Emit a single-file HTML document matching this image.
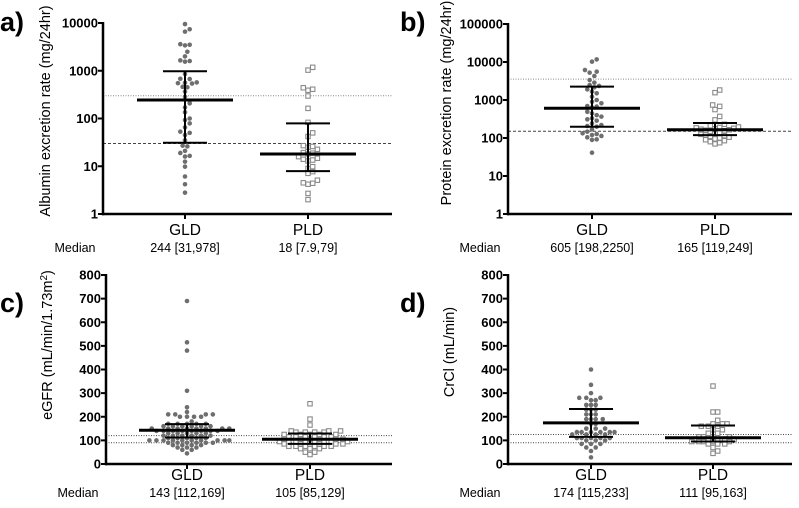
<!DOCTYPE html>
<html><head><meta charset="utf-8"><style>
body{margin:0;background:#fff}
svg{display:block;font-family:"Liberation Sans",Arial,sans-serif}
.tk{font-weight:bold;font-size:13px;text-anchor:end}
.cat{font-size:15.5px;text-anchor:middle}
.med{font-size:12.5px;text-anchor:middle}
.ttl{font-size:14.5px;text-anchor:middle}
.let{font-weight:bold;font-size:27px}
</style></head><body>
<svg id="c" width="799" height="508" viewBox="0 0 799 508"></svg>
<script>
// ---- data ----
const categories = ["GLD","PLD"];
const aGLD = [9500,7400,6600,3600,3500,3400,2500,2000,1600,1650,1550,855,670,680,560,550,570,540,450,460,365,287,208,171,135,100,93,79,65,53,50,45,35,26,27,21,19,16,16.5,12.5,9.8,6.1,4.2,2.8];
const aPLD = [1180,1030,440,410,390,296,163,83,50,42,27,26,25,22.6,19.3,18.8,18.1,15.9,14.7,14,13.5,12.9,9.8,9,7.7,7.1,5.1,4.5,4.4,4.2,2.7,2.0];
const bGLD = [11700,10200,6150,5570,5240,4280,3360,2860,2480,2340,2150,1910,1660,1500,1220,1000,900,820,695,670,640,490,445,400,365,330,310,286,243,220,207,199,169,147,133,127,120,113,104,92,89,41];
const bPLD = [1830,1560,740,680,560,370,300,230,210,195,190,185,180,175,170,165,160,155,150,140,130,125,120,115,110,105,100,95,90,85,80,75,70];
const cGLD = [690,515,480,310,240,220,210,210,210,210,200,200,200,200,180,170,170,170,170,170,160,160,160,160,160,160,150,150,150,150,150,150,150,150,140,140,140,140,140,140,140,140,130,130,130,130,130,120,120,120,120,120,120,110,110,110,110,110,100,100,100,100,100,100,100,100,100,100,90,90,90,90,90,90,80,80,80,80,70,70,70,60,60,45];
const cPLD = [255,190,165,140,140,140,135,135,135,135,125,125,125,125,125,115,115,115,115,115,115,105,105,105,105,105,105,95,95,95,95,95,95,95,95,85,85,85,85,85,85,75,75,75,75,75,75,65,65,65,50,50,40];
const dGLD = [400,335,300,280,280,280,270,270,250,250,250,230,230,230,210,210,210,190,190,190,190,170,170,150,150,150,135,135,135,135,135,135,125,125,125,125,110,110,110,110,110,100,100,100,85,85,85,70,70,55,28];
const dPLD = [330,220,220,185,170,170,170,160,160,160,145,145,130,130,115,115,115,115,105,105,105,105,95,95,95,95,95,85,85,85,70,55,45];
const aStats = [[244,31,978],[18,7.9,79]];
const bStats = [[605,198,2250],[165,119,249]];
const cStats = [[143,112,169],[105,85,129]];
const dStats = [[174,115,233],[111,95,163]];
const aTicks = [1,10,100,1000,10000];
const bTicks = [1,10,100,1000,10000,100000];
const linTicks = [0,100,200,300,400,500,600,700,800];
const aRef = [300,30];
const bRef = [3550,150];
const cRef = [120,90];
const dRef = [125,90];
const aMed = ["244 [31,978]","18 [7.9,79]"];
const bMed = ["605 [198,2250]","165 [119,249]"];
const cMed = ["143 [112,169]","105 [85,129]"];
const dMed = ["174 [115,233]","111 [95,163]"];

const svg = document.getElementById('c');
const NS = 'http://www.w3.org/2000/svg';
function mk(tag, attrs, parent){const e=document.createElementNS(NS,tag);for(const k in attrs)e.setAttribute(k,attrs[k]);(parent||svg).appendChild(e);return e;}

function panel(p){
  const g = mk('g',{});
  
  
  let yf;
  if(p.log){const l0=Math.log10(p.ticks[0]),l1=Math.log10(p.ticks[p.ticks.length-1]);yf=v=>p.y0+(p.y1-p.y0)*(Math.log10(v)-l0)/(l1-l0);}
  else {const a=p.ticks[0],b=p.ticks[p.ticks.length-1];yf=v=>p.y0+(p.y1-p.y0)*(v-a)/(b-a);}
  const cx=[p.gx,p.px];
  p.ref.forEach((r,i)=>{const l=mk('line',{x1:p.ax,x2:p.xe,y1:yf(r),y2:yf(r),stroke:(p.id=='a'||p.id=='b')&&i==0?'#888':'#444','stroke-width':1,'stroke-dasharray':(p.id=='a'||p.id=='b')&&i==1?'3,2':'1,1.5'},g);
    
    });
  [p.g,p.p].forEach((arr,ci)=>{
    const placed=[];const sorted=arr.slice().sort((a,b)=>a-b);const d=4.7;
    sorted.forEach(v=>{const y=yf(v);let x=cx[ci];
      for(let k=0;k<60;k++){const off=(k%2?1:-1)*Math.ceil(k/2)*d*0.5;const xx=cx[ci]+off;
        if(placed.every(q=>(q[0]-xx)**2+(q[1]-y)**2>=d*d)){x=xx;break;}}
      placed.push([x,y]);
      let e;
      if(ci==0) e=mk('circle',{cx:x,cy:y,r:2.3,fill:'#6e6e6e'},g);
      else e=mk('rect',{x:x-2.2,y:y-2.2,width:4.4,height:4.4,fill:'#fff',stroke:'#8a8a8a','stroke-width':1.1},g);
      
      
    });
  });
  p.stats.forEach((s,ci)=>{const x=cx[ci];
    const v=mk('line',{x1:x,x2:x,y1:yf(s[1]),y2:yf(s[2]),stroke:'#000','stroke-width':2},g);
    
    [s[1],s[2]].forEach(q=>{const c=mk('line',{x1:x-22,x2:x+22,y1:yf(q),y2:yf(q),stroke:'#000','stroke-width':2},g);
      });
    const m=mk('line',{x1:x-48,x2:x+48,y1:yf(s[0]),y2:yf(s[0]),stroke:'#000','stroke-width':3},g);
    
  });
  const ya=mk('line',{x1:p.ax,x2:p.ax,y1:p.y1-1,y2:p.y0+1.2,stroke:'#000','stroke-width':2.5},g);
  
  const xa=mk('line',{x1:p.ax-1,x2:p.xe,y1:p.y0,y2:p.y0,stroke:'#000','stroke-width':2.5},g);
  
  p.ticks.forEach(t=>{const y=yf(t);mk('line',{x1:p.ax-5,x2:p.ax,y1:y,y2:y,stroke:'#000','stroke-width':2},g);
    const tx=mk('text',{x:p.ax-5,y:y+4.5,class:'tk'},g);tx.textContent=t;
    });
  categories.forEach((c,ci)=>{mk('line',{x1:cx[ci],x2:cx[ci],y1:p.y0,y2:p.y0+5,stroke:'#000','stroke-width':2},g);
    const t=mk('text',{x:cx[ci],y:p.y0+p.cy,class:'cat'},g);t.textContent=c;
    
    const m=mk('text',{x:cx[ci],y:p.y0+p.my,class:'med'},g);m.textContent=p.med[ci];
    });
  const ml=mk('text',{x:p.ax-28,y:p.y0+p.my,class:'med'},g);ml.textContent='Median';
  
  const yt=mk('text',{x:0,y:0,class:'ttl',transform:`translate(${p.tx},${p.tyc}) rotate(-90)`},g);yt.innerHTML=p.title;
  
  const lt=mk('text',{x:p.lx,y:p.ly,class:'let'},g);lt.textContent=p.id+')';
  
}
panel({id:'a',log:true,ticks:aTicks,y0:214,y1:23,ax:103,xe:392,gx:185,px:308,g:aGLD,p:aPLD,stats:aStats,ref:aRef,med:aMed,tx:50,tyc:111,cy:21,my:38,title:'Albumin excretion rate (mg/24hr)',lx:0,ly:31});
panel({id:'b',log:true,ticks:bTicks,y0:214,y1:24,ax:508,xe:792,gx:592,px:715,g:bGLD,p:bPLD,stats:bStats,ref:bRef,med:bMed,tx:451,tyc:103,cy:21,my:38,title:'Protein excretion rate (mg/24hr)',lx:400,ly:31});
panel({id:'c',log:false,ticks:linTicks,y0:464,y1:275,ax:106,xe:392,gx:187,px:310,g:cGLD,p:cPLD,stats:cStats,ref:cRef,med:cMed,tx:52,tyc:345,cy:16,my:33,title:'eGFR (mL/min/1.73m<tspan dy="-5" font-size="10">2</tspan><tspan dy="5">)</tspan>',lx:0,ly:312});
panel({id:'d',log:false,ticks:linTicks,y0:464,y1:275,ax:508,xe:792,gx:591,px:713,g:dGLD,p:dPLD,stats:dStats,ref:dRef,med:dMed,tx:454,tyc:352,cy:16,my:33,title:'CrCl (mL/min)',lx:400,ly:312});
</script>
</body></html>
